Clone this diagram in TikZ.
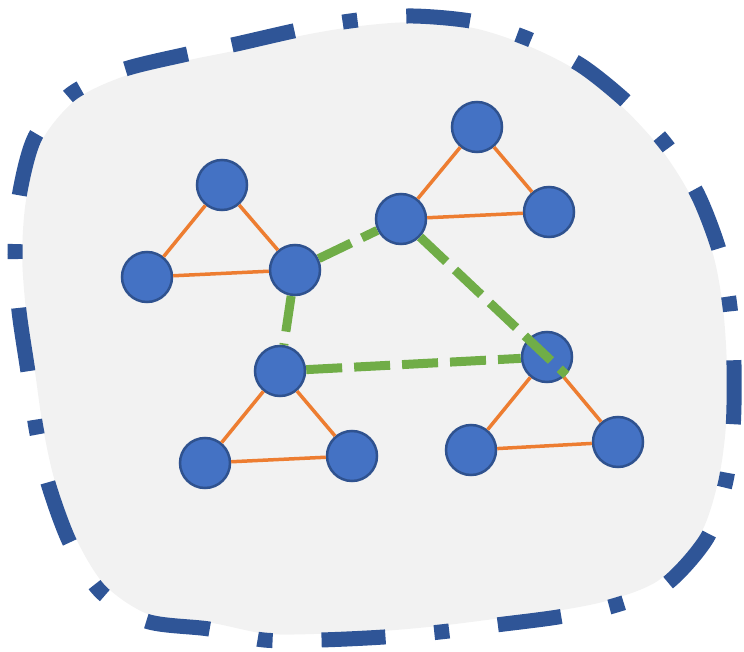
\documentclass[tikz,border=0pt]{standalone}
\usetikzlibrary{calc}
\definecolor{blobfill}{HTML}{F2F2F2}
\definecolor{blobline}{HTML}{2F5597}
\definecolor{vfill}{HTML}{4472C4}
\definecolor{vline}{HTML}{2F528F}
\definecolor{tri}{HTML}{ED7D31}
\definecolor{link}{HTML}{70AD47}
\tikzset{
  vertex/.style={circle, minimum size=50pt, inner sep=0pt, fill=vfill, draw=vline, line width=2.5pt},
  triedge/.style={draw=tri, line width=3.5pt},
  linkedge/.style={draw=link, line width=9pt, dash pattern=on 36pt off 12pt},
  blobarea/.style={fill=blobfill},
  blobborder/.style={draw=blobline, line width=15pt,
    dash pattern=on 64pt off 49pt on 15pt off 49pt},
}
% outline of the enclosing region (centre line of its border);
% a closed smooth plot starts at its second point, (232,45)
\newcommand\regionpath{plot[smooth cycle, tension=0.5] coordinates {
    (183,55) (232,45) (303,29) (358,20) (413,16) (476,22) (531,40) (582,66)
    (630,105) (668,147) (698,195) (720,253) (730,307) (734,365)
    (733,429) (725,485) (707,538) (665,585) (613,606) (558,617)
    (496,625) (440,632) (384,637) (320,640) (264,640) (209,629)
    (146,621) (100,591) (70,543) (48,483) (36,428) (28,372)
    (19,311) (15,254) (19,197) (35,137) (71,94) (122,70)}}
\begin{document}
\begin{tikzpicture}[x=1pt, y=-1pt]
  \useasboundingbox (0,0) rectangle (744,652);
  % enclosing region: grey area slightly inside its dashed border
  \path[blobarea, shift={(375,330)}, scale=0.98, shift={(-375,-330)}] \regionpath;
  \path[blobborder] \regionpath;
  % vertices
  \node[vertex] (a1) at (222,185) {};
  \node[vertex] (a2) at (147,277) {};
  \node[vertex] (a3) at (295,270) {};
  \node[vertex] (b0) at (477,127) {};
  \node[vertex] (b1) at (401,219) {};
  \node[vertex] (b2) at (549,212) {};
  \node[vertex] (c1) at (280,371) {};
  \node[vertex] (c2) at (205,463) {};
  \node[vertex] (c3) at (352,456) {};
  \node[vertex] (d1) at (547,357) {};
  \node[vertex] (d2) at (471,450) {};
  \node[vertex] (d3) at (618,442) {};
  % triangle edges
  \draw[triedge] (a1) -- (a2) -- (a3) -- (a1);
  \draw[triedge] (b0) -- (b1) -- (b2) -- (b0);
  \draw[triedge] (c1) -- (c2) -- (c3) -- (c1);
  \draw[triedge] (d1) -- (d2) -- (d3) -- (d1);
  % links between triangles
  \draw[linkedge] (a3) -- (b1);
  \draw[linkedge] (a3) -- (c1);
  \draw[linkedge] (c1) -- (d1);
  \draw[linkedge] (b1) -- (d1.-43);
\end{tikzpicture}
\end{document}
